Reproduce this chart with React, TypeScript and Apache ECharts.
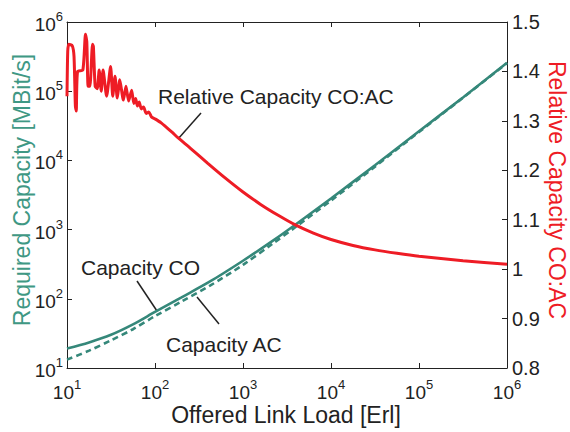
import React, { useEffect, useRef } from 'react';
import * as echarts from 'echarts';

// Offered link load [Erl] for the capacity curves
const loadCap = [10, 17.8, 31.6, 56.2, 100, 200, 422, 1000, 2190, 3890, 10000, 31600, 100000, 316000, 1000000];
// Required capacity [MBit/s], complete overbooking (CO)
const capCO = [19.1, 23.4, 30.2, 42.7, 64.6, 105, 178, 355, 692, 1164, 2820, 8510, 26300, 81300, 257000];
// Required capacity [MBit/s], admission control (AC)
const capAC = [13.2, 17.8, 25.1, 36.3, 56.2, 91.2, 155, 309, 631, 1072, 2630, 8130, 25700, 80400, 254100];

// Offered link load [Erl] for the relative capacity curve
const loadRel = [
  10, 10.19, 10.47, 11.48, 12.02, 12.45, 12.74, 13.18, 15.14, 16.22, 16.79, 17.38, 18.2, 19.5, 19.95,
  20.9, 22.1, 23.2, 24.5, 25.7, 28.2, 31.3, 33.1, 35.1, 37.3, 39.8, 43.7, 46.8, 50.1, 54.3, 57.5, 60.3,
  63.1, 66.1, 70.0, 74.1, 79.4, 85.1, 91.2, 100, 117.5, 134.9, 158.5, 182, 251, 398, 631, 1000, 1585,
  2512, 3981, 6310, 10000, 17783, 31623, 56234, 100000, 316228, 1000000,
];
// Relative capacity CO:AC
const relCap = [
  1.35, 1.44, 1.455, 1.452, 1.43, 1.33, 1.32, 1.4, 1.403, 1.475, 1.46, 1.37, 1.37, 1.455, 1.45,
  1.37, 1.365, 1.403, 1.36, 1.403, 1.35, 1.41, 1.35, 1.39, 1.346, 1.383, 1.342, 1.37, 1.34, 1.362, 1.335, 1.345,
  1.33, 1.338, 1.324, 1.328, 1.315, 1.318, 1.308, 1.304, 1.296, 1.287, 1.276, 1.266, 1.245, 1.214, 1.184, 1.156, 1.131,
  1.109, 1.089, 1.073, 1.06, 1.048, 1.039, 1.032, 1.026, 1.017, 1.01,
];

const rightTicks = ['0.8', '0.9', '1', '1.1', '1.2', '1.3', '1.4', '1.5'];

const FONT = '"Liberation Sans", Arial, Helvetica, sans-serif';
const GREEN = '#35887a';
const GREEN_TITLE = '#3f9884';
const RED = '#ee1c25';
const INK = '#222222';

const pair = (xs: number[], ys: number[]) => xs.map((x, i) => [x, ys[i]]);

const powRich = {
  b: { fontSize: 19, lineHeight: 24, verticalAlign: 'bottom', color: INK, fontFamily: FONT },
  s: { fontSize: 13, lineHeight: 13, verticalAlign: 'top', color: INK, fontFamily: FONT },
};
const powFmt = (v: number) => `{b|10}{s|${Math.round(Math.log10(v))}}`;

export default function App() {
  const ref = useRef<HTMLDivElement>(null);
  useEffect(() => {
    const chart = echarts.init(ref.current!, null, { renderer: 'svg', width: 570, height: 432 });
    const axisLine = { show: true, lineStyle: { color: INK, width: 1 } };
    const axisTick = { show: true, inside: true, length: 5, lineStyle: { color: INK, width: 1 } };
    chart.setOption({
      animation: false,
      backgroundColor: '#ffffff',
      grid: { left: 67, right: 63, top: 22, bottom: 64, containLabel: false },
      xAxis: [
        {
          type: 'log', logBase: 10, min: 10, max: 1000000, splitNumber: 5, position: 'bottom',
          axisLine, axisTick, splitLine: { show: false }, minorTick: { show: false },
          axisLabel: { show: true, margin: 10, formatter: powFmt, rich: powRich, showMinLabel: true, showMaxLabel: true },
        },
        {
          type: 'log', logBase: 10, min: 10, max: 1000000, splitNumber: 5, position: 'top',
          axisLine, axisTick, splitLine: { show: false }, axisLabel: { show: false },
        },
      ],
      yAxis: [
        {
          type: 'log', logBase: 10, min: 10, max: 1000000, splitNumber: 5, position: 'left',
          axisLine, axisTick, splitLine: { show: false },
          axisLabel: { show: true, margin: 4, formatter: powFmt, rich: powRich, showMinLabel: true, showMaxLabel: true },
        },
        {
          type: 'value', min: 0.8, max: 1.5, interval: 0.1, position: 'right',
          axisLine, axisTick, splitLine: { show: false },
          axisLabel: {
            show: true, margin: 5, color: INK, fontSize: 20, fontFamily: FONT,
            formatter: (v: number) => rightTicks[Math.round((v - 0.8) * 10)] ?? '',
          },
        },
      ],
      series: [
        {
          type: 'line', name: 'Capacity CO', xAxisIndex: 0, yAxisIndex: 0, data: pair(loadCap, capCO),
          showSymbol: false, smooth: 0.3, lineStyle: { color: GREEN, width: 2.6 }, z: 2,
        },
        {
          type: 'line', name: 'Capacity AC', xAxisIndex: 0, yAxisIndex: 0, data: pair(loadCap, capAC),
          showSymbol: false, smooth: 0.3, lineStyle: { color: GREEN, width: 2.6, type: [6, 4] }, z: 2,
        },
        {
          type: 'line', name: 'Relative Capacity CO:AC', xAxisIndex: 0, yAxisIndex: 1, data: pair(loadRel, relCap),
          showSymbol: false, smooth: 0.2, lineStyle: { color: RED, width: 3 }, z: 3,
        },
      ],
      graphic: [
        {
          type: 'text', x: 286, y: 415,
          style: { text: 'Offered Link Load [Erl]', fill: INK, font: `23px ${FONT}`, align: 'center', verticalAlign: 'middle', textAlign: 'center', textVerticalAlign: 'middle' },
        },
        {
          type: 'text', x: 22, y: 190, rotation: Math.PI / 2,
          style: { text: 'Required Capacity [MBit/s]', fill: GREEN_TITLE, font: `23px ${FONT}`, align: 'center', verticalAlign: 'middle', textAlign: 'center', textVerticalAlign: 'middle' },
        },
        {
          type: 'text', x: 557, y: 190, rotation: -Math.PI / 2,
          style: { text: 'Relative Capacity CO:AC', fill: RED, font: `23px ${FONT}`, align: 'center', verticalAlign: 'middle', textAlign: 'center', textVerticalAlign: 'middle' },
        },
        {
          type: 'text', x: 158, y: 96,
          style: { text: 'Relative Capacity CO:AC', fill: INK, font: `21px ${FONT}`, align: 'left', verticalAlign: 'middle', textAlign: 'left', textVerticalAlign: 'middle' },
        },
        {
          type: 'text', x: 81, y: 267,
          style: { text: 'Capacity CO', fill: INK, font: `21px ${FONT}`, align: 'left', verticalAlign: 'middle', textAlign: 'left', textVerticalAlign: 'middle' },
        },
        {
          type: 'text', x: 166, y: 344,
          style: { text: 'Capacity AC', fill: INK, font: `21px ${FONT}`, align: 'left', verticalAlign: 'middle', textAlign: 'left', textVerticalAlign: 'middle' },
        },
        { type: 'line', shape: { x1: 201, y1: 113, x2: 178, y2: 139 }, style: { stroke: INK, lineWidth: 1.5 } },
        { type: 'line', shape: { x1: 137, y1: 281, x2: 157, y2: 311 }, style: { stroke: INK, lineWidth: 1.5 } },
        { type: 'line', shape: { x1: 197, y1: 297, x2: 219, y2: 324 }, style: { stroke: INK, lineWidth: 1.5 } },
      ],
    });
    return () => chart.dispose();
  }, []);
  return (
    <div
      ref={ref}
      style={{ position: 'fixed', left: 0, top: 0, width: 570, height: 432, background: '#ffffff' }}
    />
  );
}
